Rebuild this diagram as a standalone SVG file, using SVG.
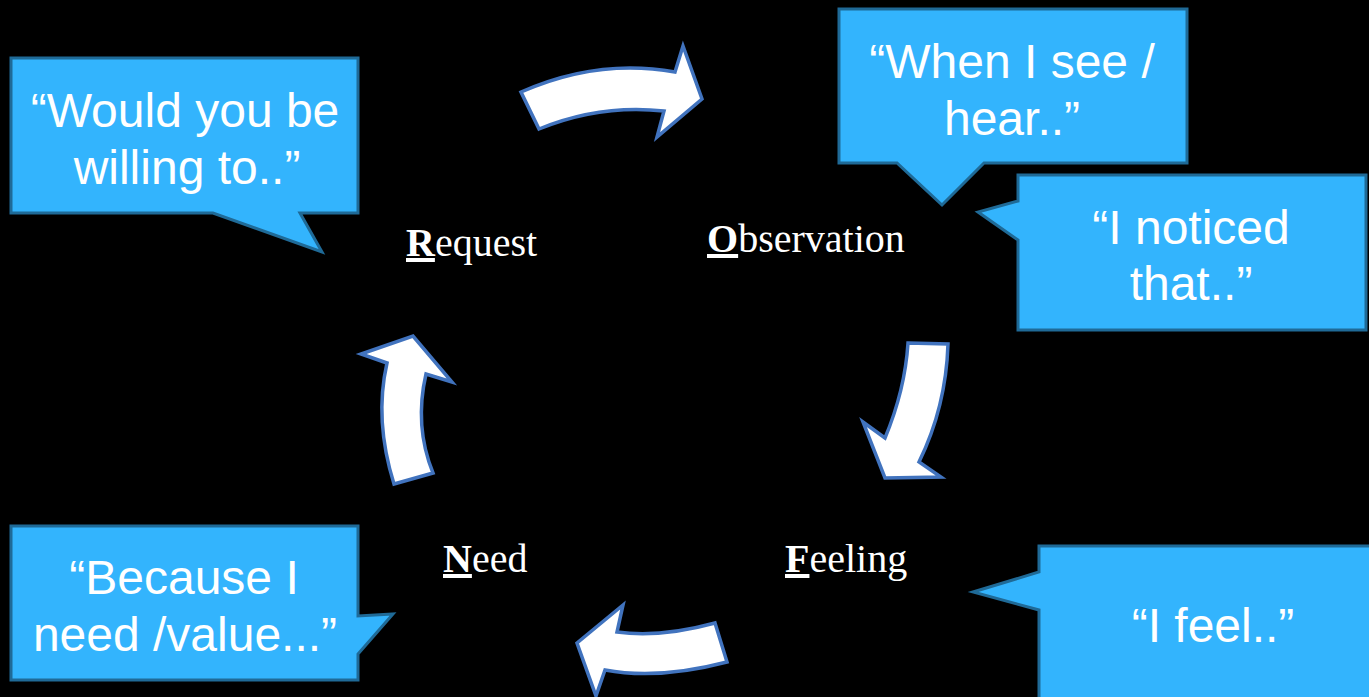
<svg xmlns="http://www.w3.org/2000/svg" width="1369" height="697" viewBox="0 0 1369 697">
<style>
.callout{fill:#33B4FD;stroke:#1F6A97;stroke-width:3;stroke-linejoin:miter}
.ctext{font-family:"Liberation Sans",Arial,sans-serif;font-size:48px;fill:#FFFFFF;text-anchor:middle}
.arrow{fill:#FFFFFF;stroke:#4173BE;stroke-width:3.5;stroke-linejoin:miter}
.label{font-family:"Liberation Serif","Times New Roman",serif;font-size:40px;fill:#FFFFFF}
.init{font-weight:bold;text-decoration:underline}
</style>
<rect x="0" y="0" width="1369" height="697" fill="#000000"/>

<g id="connectors">
  <path class="arrow" d="M521,92 Q598,58 675,72 L683,46 L702,99 L657,137 L664,111 Q600,104 539,129 Z"/>
  <path class="arrow" d="M908,343 L948,344 Q946,407 919,462 L941,477 L885,478 L863,422 L885,438 Q905,390 908,343 Z"/>
  <path class="arrow" d="M715,623 L727,662 Q658,680 605,670 L596,696 L577,643 L623,605 L617,632 Q660,638 715,623 Z"/>
  <path class="arrow" d="M394,484 L433,473 Q414,426 426,374 L452,382 L413,336 L361,354 L387,363 Q374,420 394,484 Z"/>
</g>

<g id="request">
  <text class="label" x="406" y="256"><tspan class="init">R</tspan>equest</text>
</g>
<g id="observation">
  <text class="label" x="707" y="252"><tspan class="init">O</tspan>bservation</text>
</g>
<g id="feeling">
  <text class="label" x="785" y="572"><tspan class="init">F</tspan>eeling</text>
</g>
<g id="need">
  <text class="label" x="443" y="572"><tspan class="init">N</tspan>eed</text>
</g>

<g id="callout-request">
  <path class="callout" d="M11,58 H358 V213 H300 L322,252 L213,213 H11 Z"/>
  <text class="ctext" x="185" y="127">“Would you be</text>
  <text class="ctext" x="187" y="184">willing to..”</text>
</g>

<g id="callout-observation-1">
  <path class="callout" d="M839,9 H1187 V163 H984 L942,205 L897,163 H839 Z"/>
  <text class="ctext" x="1012" y="78">“When I see /</text>
  <text class="ctext" x="1012" y="135">hear..”</text>
</g>

<g id="callout-observation-2">
  <path class="callout" d="M1018,175 H1366 V330 H1018 V240 L978,212 L1018,201 Z"/>
  <text class="ctext" x="1191" y="244">“I noticed</text>
  <text class="ctext" x="1191" y="300">that..”</text>
</g>

<g id="callout-feeling">
  <path class="callout" d="M1039,546 H1390 V705 H1039 V610 L973,592 L1039,572 Z"/>
  <text class="ctext" x="1213" y="642">“I feel..”</text>
</g>

<g id="callout-need">
  <path class="callout" d="M11,526 H358 V616 L393,614 L358,654 V680 H11 Z"/>
  <text class="ctext" x="184" y="594">“Because I</text>
  <text class="ctext" x="185" y="651">need /value...”</text>
</g>
</svg>
